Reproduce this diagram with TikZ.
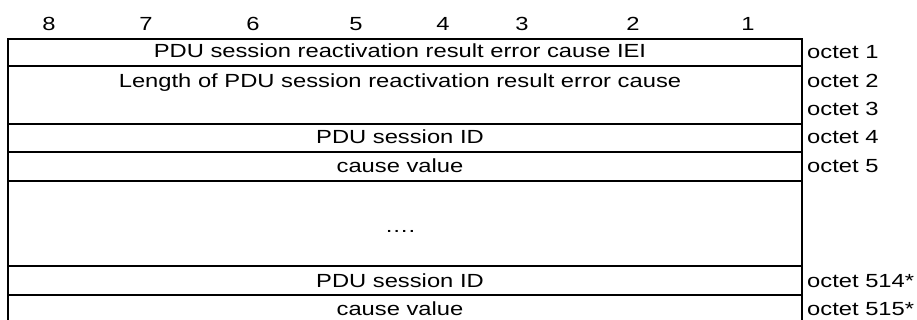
\documentclass[tikz,border=0pt]{standalone}
\usepackage{fontspec}
\setmainfont[FakeStretch=1.25]{Liberation Sans}
\usetikzlibrary{positioning}
\tikzset{
	bitnum/.style={anchor=base, inner sep=0pt},
	field/.style={anchor=base, inner sep=0pt},
	octet/.style={anchor=base west, inner sep=0pt},
	rule/.style={line width=1.4pt},
}
\begin{document}
\begin{tikzpicture}[x=1pt, y=-1pt, font=\fontsize{19}{22.8}\selectfont]
	\useasboundingbox (0,0) rectangle (917,320);
	% bit numbers
	\foreach \b/\xb in {8/49,7/146,6/253,5/356,4/443,3/522,2/633,1/748}
		\node[bitnum] (b\b) at (\xb,31) {\b};
	% frame and row separators
	\draw[rule] (8,320) -- (8,39) -- (802,39) -- (802,320);
	\foreach \yr in {66,124,152,181,266,295}
		\draw[rule] (8,\yr) -- (802,\yr);
	% field texts
	\node[field] (iei) at (400,58) {PDU session reactivation result error cause IEI};
	\node[field] (len) at (400,88) {Length of PDU session reactivation result error cause};
	\node[field] (id1) at (400,144) {PDU session ID};
	\node[field] (cv1) at (400,173) {cause value};
	\node[field] (dots) at (400,233) {….};
	\node[field] (idn) at (400,287) {PDU session ID};
	\node[field] (cvn) at (400,315) {cause value};
	% octet numbers
	\node[octet] (o1) at (807,59) {octet 1};
	\node[octet] (o2) at (807,88) {octet 2};
	\node[octet] (o3) at (807,116) {octet 3};
	\node[octet] (o4) at (807,144) {octet 4};
	\node[octet] (o5) at (807,173) {octet 5};
	\node[octet] (o514) at (807,287) {octet 514*};
	\node[octet] (o515) at (807,315) {octet 515*};
\end{tikzpicture}
\end{document}
